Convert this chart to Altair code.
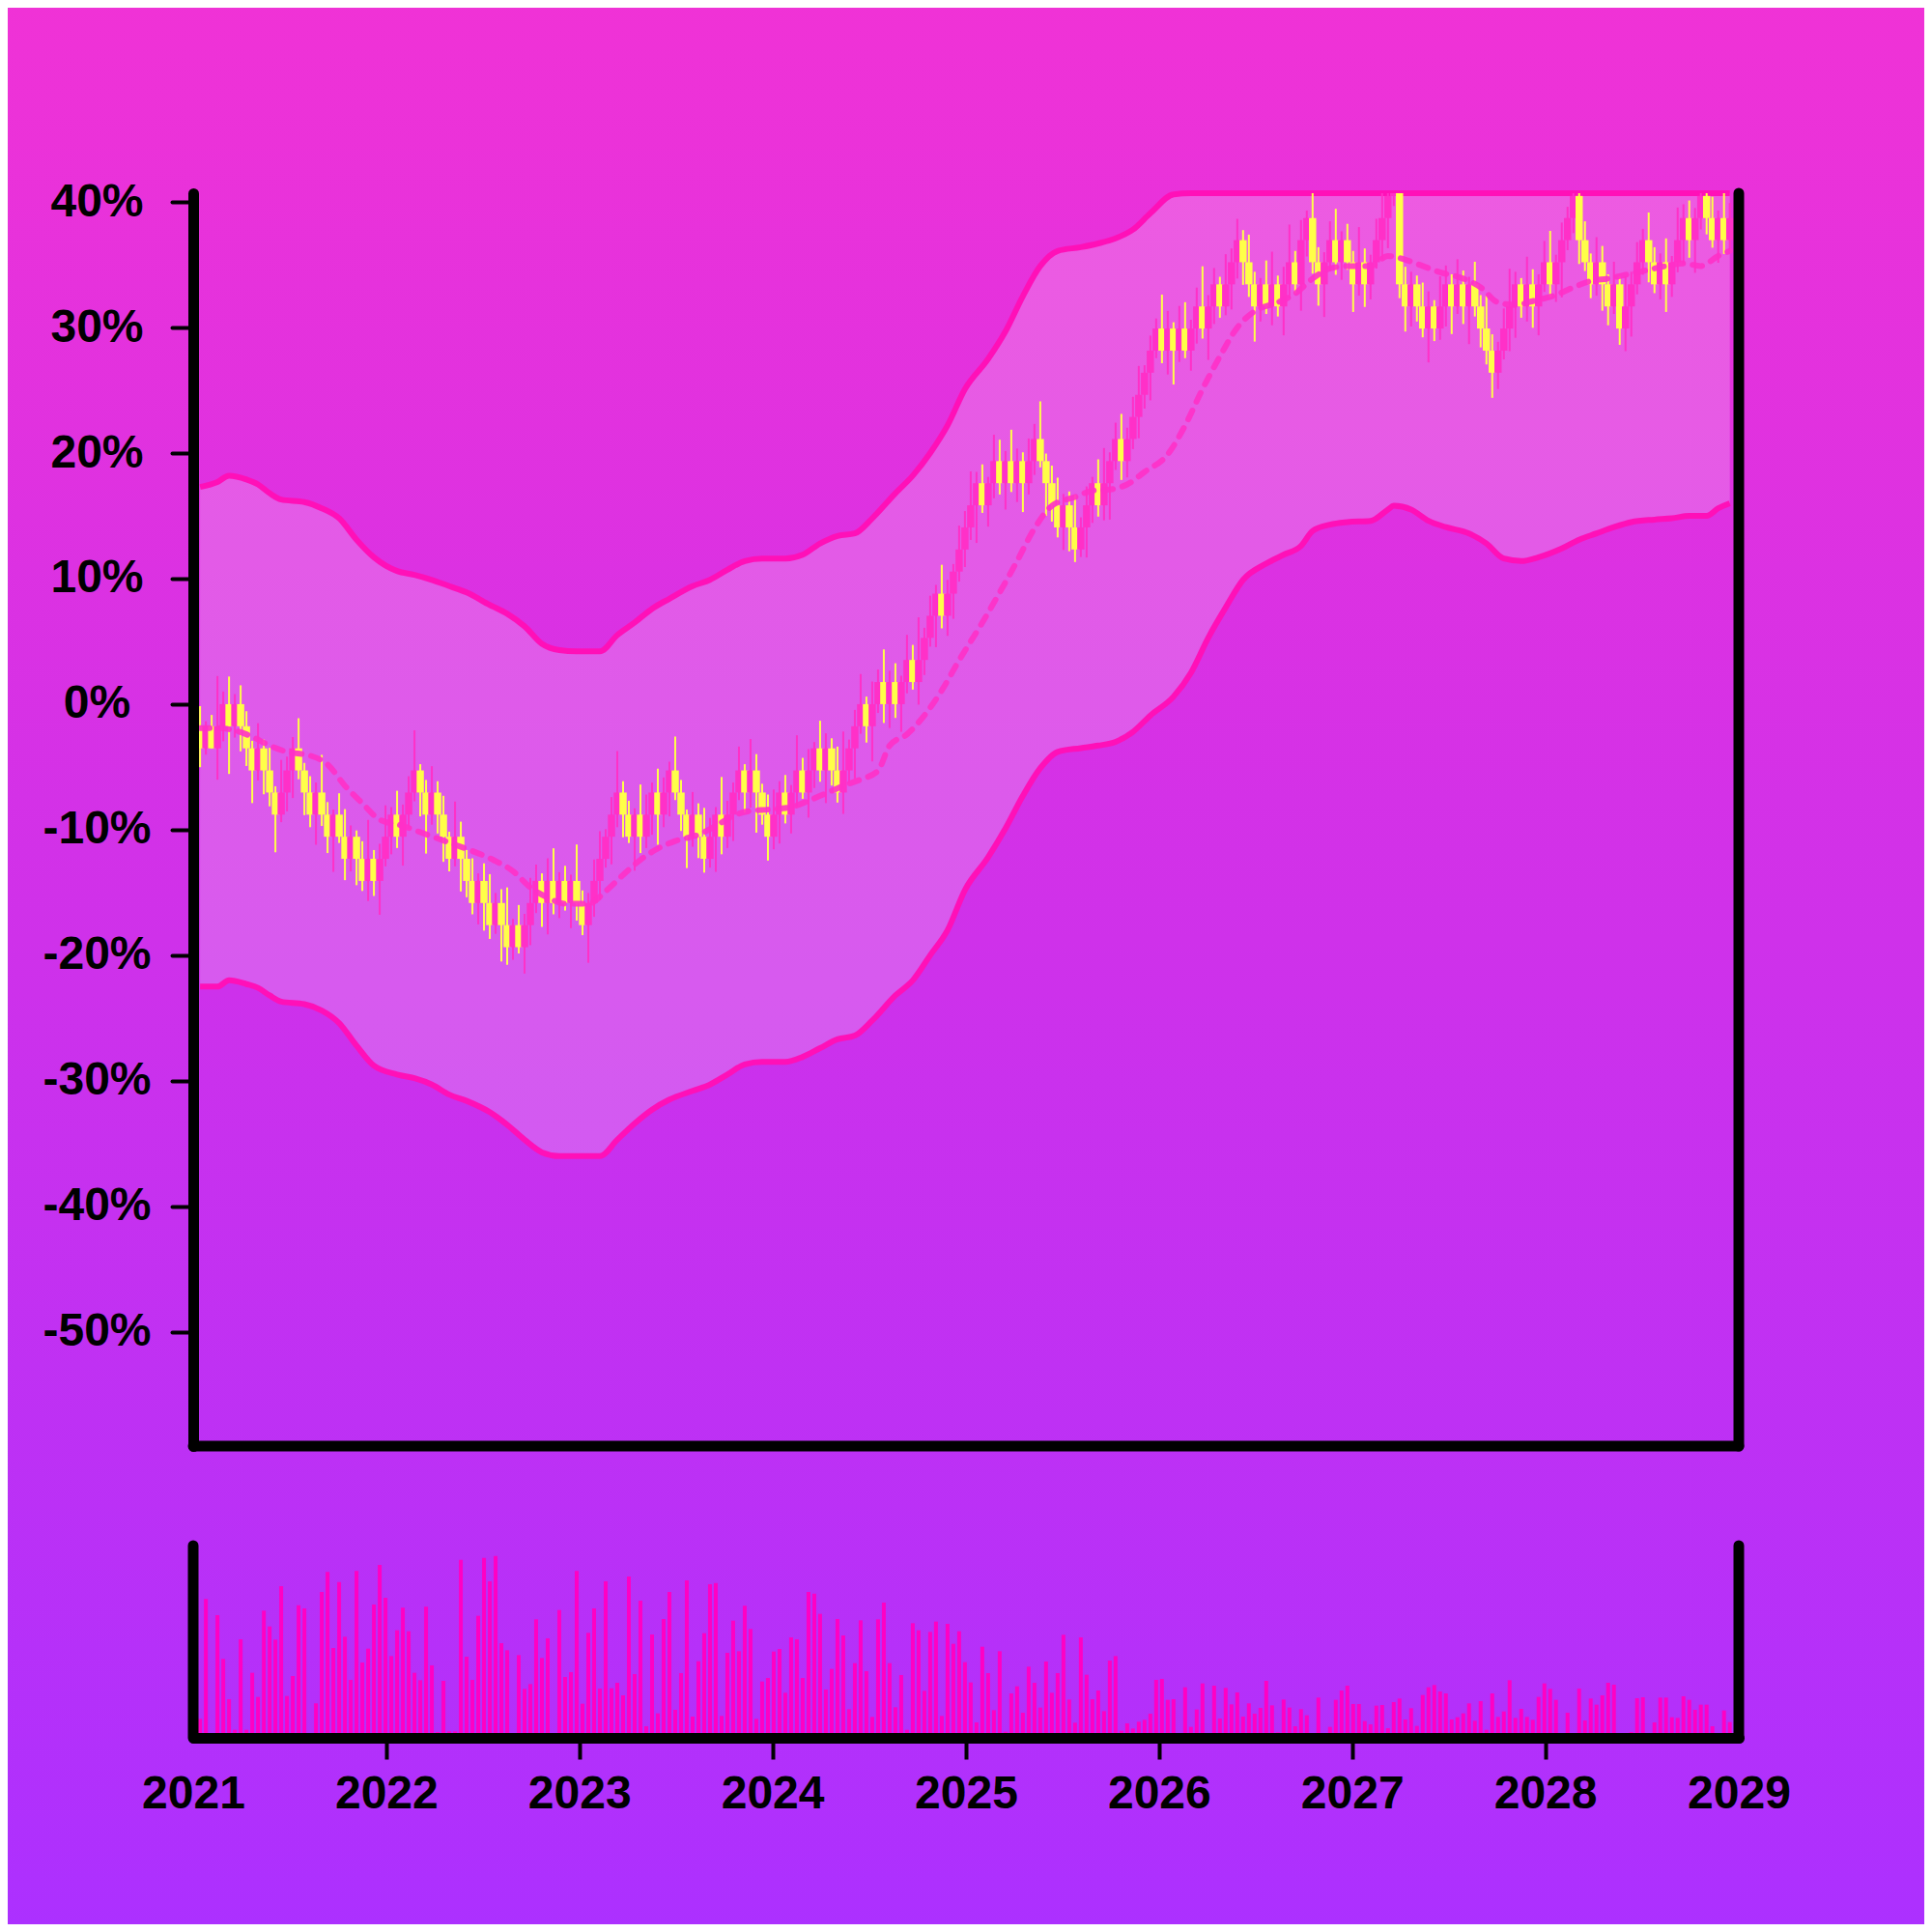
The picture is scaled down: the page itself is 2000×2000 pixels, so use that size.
import altair as alt
import pandas as pd

# ---------------- data ----------------
date_first = "2021-01-14"
date_last = "2028-12-15"

# candle bodies move on a ~1.76 % grid: closes given in grid steps
STEP = 1.76
first_open_lvl = -1
close_lvl = [
    -2, -1, -2, -1, 0, -1, 0, -1, -2, -3,
    -2, -3, -4, -5, -4, -3, -2, -3, -4, -5,
    -4, -5, -6, -5, -6, -7, -6, -7, -8, -7,
    -8, -7, -6, -5, -6, -5, -4, -3, -4, -5,
    -4, -5, -6, -7, -6, -7, -8, -9, -8, -9,
    -10, -9, -10, -11, -10, -11, -10, -9, -8, -9,
    -8, -9, -8, -9, -8, -9, -10, -9, -8, -7,
    -6, -5, -4, -5, -6, -5, -6, -5, -4, -5,
    -4, -3, -4, -5, -6, -5, -6, -7, -6, -5,
    -6, -5, -4, -3, -4, -3, -4, -5, -6, -5,
    -4, -5, -4, -3, -4, -3, -2, -3, -2, -3,
    -4, -3, -2, -1, 0, -1, 0, 1, 0, 1,
    0, 1, 2, 1, 2, 3, 4, 5, 4, 5,
    6, 7, 8, 9, 10, 9, 10, 11, 10, 11,
    10, 11, 10, 11, 12, 11, 10, 9, 8, 9,
    8, 7, 8, 9, 10, 9, 10, 11, 12, 11,
    12, 13, 14, 15, 16, 17, 16, 17, 16, 17,
    16, 17, 18, 17, 18, 19, 18, 19, 20, 21,
    20, 19, 18, 19, 18, 19, 18, 19, 20, 19,
    21, 22, 20, 19, 20, 21, 20, 21, 20, 19,
    20, 19, 20, 21, 22, 23, 24, 19, 18, 19,
    18, 17, 18, 17, 18, 19, 18, 19, 18, 19,
    18, 17, 16, 15, 16, 17, 18, 19, 18, 19,
    18, 19, 20, 19, 20, 21, 22, 23, 21, 20,
    19, 20, 19, 18, 19, 17, 18, 19, 20, 21,
    20, 19, 20, 19, 20, 21, 22, 21, 22, 23,
    22, 21, 22, 21, 22,
]

# wick lengths above / below the body, in %
wick_up = [
    1.6, 0.4, 0.9, 4.0, 1.0, 2.2, 0.8, 1.5, 1.2, 0.6,
    2.0, 0.7, 1.8, 0.5, 2.6, 1.1, 0.9, 2.4, 0.6, 1.3,
    0.8, 3.0, 1.0, 0.4, 1.7, 2.2, 0.9, 0.5, 1.4, 3.1,
    0.7, 1.2, 2.5, 0.6, 1.9, 0.8, 1.3, 3.2, 0.5, 1.0,
    2.1, 0.9, 1.5, 0.4, 2.8, 1.2, 0.7, 1.8, 0.6, 1.4,
    2.3, 0.8, 1.1, 3.0, 0.5, 1.6, 0.9, 2.0, 1.3, 0.6,
    1.8, 2.6, 0.7, 1.2, 0.5, 2.9, 1.0, 0.8, 1.7, 2.2,
    0.6, 1.4, 3.3, 0.9, 1.1, 0.5, 2.4, 1.6, 0.8, 1.9,
    1.2, 0.7, 2.7, 1.0, 0.4, 1.8, 0.9, 2.3, 1.5, 0.6,
    3.0, 1.1, 0.8, 1.9, 0.5, 2.5, 1.3, 0.7, 1.6, 2.0,
    0.9, 1.4, 0.6, 2.8, 1.0, 1.7, 0.5, 2.2, 1.2, 0.8,
    1.9, 3.1, 0.7, 1.3, 2.4, 0.6, 1.8, 1.0, 2.6, 0.9,
    1.5, 0.5, 2.0, 1.2, 3.4, 0.8, 1.6, 0.7, 2.3, 1.1,
    0.6, 1.9, 1.3, 2.7, 0.9, 1.5, 0.5, 2.1, 1.7, 0.8,
    2.5, 1.0, 0.7, 1.8, 1.2, 3.0, 0.6, 1.4, 2.2, 0.9,
    1.1, 2.6, 0.8, 1.5, 0.5, 1.9, 2.8, 0.7, 1.3, 2.0,
    0.9, 1.6, 2.3, 0.6, 1.2, 0.8, 2.7, 1.4, 0.5, 1.8,
    2.1, 0.7, 1.5, 3.2, 0.9, 1.3, 0.6, 2.4, 1.1, 1.7,
    0.8, 2.2, 1.0, 0.5, 1.9, 2.6, 0.7, 1.4, 3.0, 0.9,
    1.6, 0.6, 2.1, 1.2, 0.8, 1.5, 2.5, 0.7, 1.3, 0.9,
    2.8, 1.1, 0.6, 1.7, 2.2, 0.9, 3.1, 0.8, 1.4, 1.0,
    0.7, 1.9, 1.2, 0.5, 2.4, 1.5, 0.8, 2.0, 1.1, 0.6,
    1.8, 0.9, 2.6, 1.3, 0.7, 1.6, 3.0, 1.0, 0.5, 2.2,
    1.2, 0.8, 1.7, 2.5, 0.6, 1.4, 0.9, 2.9, 1.1, 1.5,
    0.7, 2.0, 1.3, 0.8, 1.8, 0.6, 2.4, 1.0, 1.6, 0.9,
    2.2, 1.2, 0.7, 1.9, 0.5, 2.6, 1.1, 1.4, 0.8, 2.0,
    1.0, 1.7, 0.6, 2.3, 1.2,
]
wick_dn = [
    1.5, 0.5, 0.0, 2.5, 1.2, 3.8, 0.9, 2.0, 1.4, 2.6,
    0.8, 1.9, 1.1, 3.0, 0.6, 1.5, 2.2, 0.7, 1.8, 1.0,
    2.4, 0.9, 1.3, 2.8, 0.5, 1.7, 1.0, 2.1, 0.8, 1.6,
    1.2, 2.7, 0.6, 1.4, 0.9, 2.3, 1.1, 0.7, 1.9, 3.1,
    0.8, 1.5, 2.0, 1.0, 0.6, 2.6, 1.3, 0.9, 1.7, 2.2,
    1.1, 0.7, 2.9, 1.4, 1.0, 0.5, 2.1, 1.6, 0.8, 1.9,
    2.5, 0.9, 1.2, 0.6, 2.0, 1.4, 0.8, 3.0, 1.1, 1.5,
    0.7, 2.2, 1.0, 1.8, 0.5, 2.7, 1.3, 0.9, 1.6, 2.4,
    1.0, 1.9, 0.6, 1.3, 2.5, 0.8, 1.7, 1.1, 0.7, 2.8,
    1.4, 0.9, 2.1, 0.6, 1.6, 1.2, 3.2, 0.8, 1.9, 1.0,
    2.3, 0.7, 1.5, 1.1, 0.5, 2.0, 1.4, 0.9, 2.6, 1.2,
    0.8, 1.7, 1.0, 2.4, 0.6, 1.3, 2.8, 0.7, 1.5, 1.9,
    1.1, 2.2, 0.9, 0.6, 1.8, 1.2, 0.7, 2.5, 1.0, 1.6,
    2.0, 0.8, 1.4, 1.0, 3.0, 0.6, 1.7, 1.2, 0.9, 2.1,
    0.7, 1.5, 2.3, 0.9, 1.1, 0.5, 2.6, 1.3, 0.8, 1.8,
    1.9, 1.0, 0.6, 2.4, 1.4, 0.9, 1.2, 2.9, 0.7, 1.5,
    1.3, 0.8, 1.7, 1.1, 2.2, 0.6, 1.0, 1.9, 2.7, 0.9,
    0.6, 1.6, 1.2, 0.8, 2.5, 1.4, 0.9, 0.7, 2.0, 1.3,
    1.8, 1.0, 2.8, 1.2, 0.6, 1.5, 0.8, 2.3, 1.1, 0.7,
    2.1, 1.3, 0.9, 1.7, 2.6, 0.7, 1.0, 1.4, 0.6, 2.2,
    0.9, 1.8, 1.2, 0.5, 1.5, 2.4, 0.8, 1.1, 2.0, 1.6,
    1.2, 0.7, 2.7, 1.0, 0.9, 1.6, 2.2, 0.6, 1.4, 3.0,
    0.8, 1.5, 1.1, 2.0, 1.3, 0.7, 1.8, 2.5, 0.9, 1.2,
    1.7, 2.3, 0.6, 1.0, 1.4, 2.8, 0.8, 1.2, 1.9, 0.7,
    1.1, 0.9, 2.1, 1.5, 0.6, 1.3, 1.8, 2.4, 0.8, 1.0,
    1.6, 0.7, 1.2, 2.2, 1.0, 0.8, 1.9, 1.4, 2.6, 0.9,
    1.3, 0.6, 1.8, 1.1, 0.9,
]

volumes = [
    44, 416, 0, 366, 230, 105, 10, 291, 10, 187,
    112, 380, 331, 290, 456, 115, 177, 397, 387, 0,
    92, 438, 500, 264, 469, 299, 165, 503, 219, 262,
    399, 522, 420, 239, 319, 389, 316, 187, 164, 392,
    210, 3, 162, 5, 5, 538, 237, 165, 364, 544,
    471, 550, 279, 257, 0, 242, 137, 152, 353, 233,
    294, 0, 382, 174, 189, 503, 91, 311, 387, 138,
    471, 139, 156, 117, 486, 183, 411, 21, 306, 61,
    354, 438, 72, 186, 474, 51, 223, 310, 462, 466,
    53, 249, 349, 254, 395, 323, 44, 160, 171, 253,
    261, 125, 297, 291, 171, 438, 433, 370, 135, 199,
    354, 303, 74, 217, 350, 192, 50, 353, 405, 217,
    80, 180, 10, 341, 319, 131, 314, 346, 53, 339,
    277, 316, 220,
    157, 33, 268, 186, 71, 254, 4, 123, 145, 63,
    206, 156, 79, 222, 125, 186, 305, 104, 32, 297,
    181, 105, 132, 68, 225, 239, 7, 30, 14, 35,
    41, 60, 165, 168, 103, 105, 0, 142, 19, 73,
    154, 0, 147, 45, 140, 89, 126, 51, 92, 60,
    78, 162, 86, 2, 104, 79, 21, 74, 55, 0,
    110, 0, 19, 103, 132, 147, 90, 90, 37, 27,
    85, 87, 15, 96, 107, 42, 77, 22, 118, 142,
    149, 129, 123, 42, 49, 61, 92, 38, 99, 10,
    123, 50, 67, 164, 47, 75, 50, 41, 112, 154,
    137, 103, 0, 63, 0, 138, 39, 107, 88, 117,
    156, 150, 0, 0, 3, 108, 111, 0, 33, 110,
    110, 49, 47, 114, 103, 72, 88, 88, 21, 0,
    70, 34,
]

band_idx = [0, 3, 5, 8, 10, 12, 14, 18, 21, 24, 27, 30, 34, 37, 40, 43, 46, 50,
            53, 56, 59, 62, 65, 69, 72, 75, 78, 81, 85, 88, 91, 94, 97, 101, 104,
            107, 110, 113, 116, 120, 123, 126, 129, 132, 136, 139, 142, 145, 148,
            152, 155, 158, 161, 164, 168, 171, 174, 177, 180, 184, 187, 190, 192,
            195, 198, 202, 205, 206, 209, 212, 215, 219, 222, 225, 228, 231, 235,
            238, 241, 244, 247, 251, 254, 257, 260, 262, 264]
band_upper = [17.3, 17.7, 18.2, 17.9, 17.5, 16.8, 16.3, 16.1, 15.6, 14.8, 13.1, 11.7,
              10.6, 10.3, 9.9, 9.4, 8.9, 7.9, 7.2, 6.2, 4.8, 4.3, 4.2, 4.2, 5.5, 6.5,
              7.6, 8.4, 9.4, 9.9, 10.7, 11.4, 11.6, 11.6, 11.9, 12.8, 13.4, 13.6,
              14.8, 16.8, 18.2, 20.0, 22.2, 25.1, 27.5, 29.7, 32.5, 34.9, 36.1, 36.4,
              36.7, 37.1, 37.8, 39.1, 40.6, 42.5, 45.3, 47.7, 49.9, 51.2, 51.9, 52.6,
              53.8, 54.3, 54.5, 54.6, 55.5, 55.8, 55.5, 54.6, 54.1, 53.6, 52.8, 51.6,
              51.4, 51.7, 52.4, 53.1, 53.6, 54.1, 54.5, 54.7, 54.8, 55.0, 55.0, 55.6,
              56.0]
band_lower = [-22.5, -22.5, -22.0, -22.3, -22.6, -23.2, -23.7, -23.9, -24.4, -25.4,
              -27.2, -28.8, -29.5, -29.8, -30.3, -31.1, -31.6, -32.5, -33.5, -34.7,
              -35.7, -36.0, -36.0, -36.0, -34.7, -33.4, -32.3, -31.5, -30.8, -30.3,
              -29.5, -28.7, -28.5, -28.5, -28.1, -27.4, -26.7, -26.4, -25.2, -23.2,
              -22.0, -20.0, -18.0, -14.8, -12.2, -9.9, -7.3, -5.1, -3.8, -3.5, -3.3,
              -3.0, -2.2, -0.9, 0.6, 2.5, 5.3, 7.7, 9.9, 11.2, 11.9, 12.6, 13.8, 14.3,
              14.5, 14.6, 15.5, 15.8, 15.5, 14.6, 14.1, 13.6, 12.8, 11.6, 11.4, 11.7,
              12.4, 13.1, 13.6, 14.1, 14.5, 14.7, 14.8, 15.0, 15.0, 15.6, 16.0]

ma_idx = [0, 3, 6, 9, 12, 15, 19, 22, 25, 28, 31, 35, 38, 41, 44, 47, 51, 54, 57,
          60, 63, 67, 70, 73, 76, 79, 82, 86, 89, 92, 95, 98, 102, 105, 108, 111,
          114, 117, 119, 122, 125, 128, 131, 135, 138, 141, 144, 147, 151, 154,
          157, 160, 163, 167, 170, 173, 176, 179, 182, 186, 189, 192, 195, 198,
          202, 205, 208, 211, 214, 218, 221, 224, 227, 230, 234, 237, 240, 243,
          246, 250, 253, 256, 259, 262, 264]
ma_vals = [-1.9, -1.9, -2.1, -2.6, -3.3, -3.8, -4.1, -4.8, -6.5, -7.9, -9.2, -9.7,
           -10.2, -10.7, -11.2, -11.7, -12.5, -13.3, -14.6, -15.4, -15.9, -15.9,
           -14.9, -13.6, -12.4, -11.5, -10.9, -10.4, -9.7, -8.9, -8.5, -8.4, -8.2,
           -7.7, -7.1, -6.5, -6.0, -5.3, -3.3, -2.4, -0.9, 1.1, 3.5, 6.5, 8.9, 11.4,
           14.0, 15.8, 16.5, 17.0, 17.1, 17.5, 18.5, 19.9, 22.2, 25.1, 27.7, 30.0,
           31.3, 32.0, 32.7, 33.9, 34.7, 34.9, 34.9, 35.7, 35.4, 34.9, 34.4, 33.9,
           33.2, 32.0, 31.8, 32.1, 32.6, 33.2, 33.7, 33.9, 34.2, 34.6, 34.9, 35.1,
           34.9, 35.7, 36.1]

y_ticks = [-50, -40, -30, -20, -10, 0, 10, 20, 30, 40]
years = list(range(2021, 2030))

# ---------------- tables ----------------
dates = pd.date_range(date_first, date_last, periods=len(close_lvl))
closes = [round(v * STEP, 2) for v in close_lvl]
opens = [round(first_open_lvl * STEP, 2)] + closes[:-1]
highs = [max(o, c) + u for o, c, u in zip(opens, closes, wick_up)]
lows = [min(o, c) - d for o, c, d in zip(opens, closes, wick_dn)]
candles = pd.DataFrame({"date": dates, "open": opens, "high": highs,
                        "low": lows, "close": closes, "volume": volumes})
band = pd.DataFrame({"date": dates[band_idx], "upper": band_upper, "lower": band_lower})
ma = pd.DataFrame({"date": dates[ma_idx], "ma": ma_vals})
one = pd.DataFrame({"k": [0]})

# ---------------- styling ----------------
W, H = 1600, 1599
MAIN_H = 1297
VOL_TOP, VOL_BASE = 1400, 1594
PINK = "#ff30c8"
YELLOW = "#ffff48"
BAND = "#ff10b8"
FONT = "Liberation Sans"

xscale = alt.Scale(domain=[alt.DateTime(year=2021, month=1, date=1),
                           alt.DateTime(year=2029, month=1, date=1)],
                   nice=False, padding=0)
xaxis = alt.Axis(values=[alt.DateTime(year=y, month=1, date=1) for y in years],
                 format="%Y", title=None, grid=False, labelFlush=False,
                 labelOverlap=False, domainWidth=11, domainColor="black",
                 domainCap="round", tickSize=22, tickWidth=4, tickColor="black",
                 tickOpacity={"condition": {"test": "year(datum.value) == 2021 || year(datum.value) == 2029",
                                            "value": 0}, "value": 1},
                 labelFont=FONT, labelFontSize=48, labelFontWeight="bold",
                 labelColor="black", labelPadding=12, zindex=1)
X = alt.X("date:T", scale=xscale, axis=xaxis)

yscale = alt.Scale(domain=[-59.1, 40.7], range=[MAIN_H, 0], clamp=True,
                   nice=False, zero=False)
yaxis = alt.Axis(values=y_ticks, labelExpr="datum.value + '%'", title=None,
                 grid=False, domainWidth=11, domainColor="black", domainCap="round",
                 tickSize=22, tickWidth=4, tickColor="black", tickCap="round",
                 labelFont=FONT, labelFontSize=48, labelFontWeight="bold",
                 labelColor="black", labelAlign="center", labelBaseline="middle",
                 labelPadding=78, zindex=1)

grad = alt.LinearGradient(gradient="linear",
                          stops=[alt.GradientStop(color="#f032d6", offset=0),
                                 alt.GradientStop(color="#ac30ff", offset=1)],
                          x1=0, x2=0, y1=0, y2=1)
bg = alt.Chart(one).mark_rect(fill=grad, strokeWidth=0).encode(
    x=alt.value(-200), x2=alt.value(1800), y=alt.value(-200), y2=alt.value(1800))

band_fill = alt.Chart(band).mark_area(color="white", opacity=0.2,
                                      interpolate="monotone").encode(
    x=X, y=alt.Y("lower:Q", scale=yscale, axis=yaxis), y2="upper:Q")
band_up = alt.Chart(band).mark_line(color=BAND, strokeWidth=6,
                                    interpolate="monotone").encode(
    x=X, y=alt.Y("upper:Q", scale=yscale, axis=yaxis))
band_lo = alt.Chart(band).mark_line(color=BAND, strokeWidth=6,
                                    interpolate="monotone").encode(
    x=X, y=alt.Y("lower:Q", scale=yscale, axis=yaxis))

up_cond = alt.condition("datum.close > datum.open", alt.value(PINK), alt.value(YELLOW))
wicks = alt.Chart(candles).mark_rule(strokeWidth=2).encode(
    x=X, y=alt.Y("low:Q", scale=yscale, axis=yaxis), y2="high:Q", color=up_cond)
bodies = alt.Chart(candles).mark_bar(size=7.5).encode(
    x=X, y=alt.Y("open:Q", scale=yscale, axis=yaxis), y2="close:Q", color=up_cond)

ma_line = alt.Chart(ma).mark_line(color=PINK, strokeWidth=6, strokeDash=[10, 10],
                                  strokeCap="round", opacity=0.9,
                                  interpolate="monotone").encode(
    x=X, y=alt.Y("ma:Q", scale=yscale, axis=yaxis))

def rule(**enc):
    return alt.Chart(one).mark_rule(color="black", strokeWidth=11,
                                    strokeCap="round").encode(**enc)

main_right = rule(x=alt.value(W), y=alt.value(0), y2=alt.value(MAIN_H))
main_bottom = rule(x=alt.value(0), x2=alt.value(W), y=alt.value(MAIN_H))

price = alt.layer(bg, band_fill, band_up, band_lo, wicks, bodies, ma_line,
                  main_right, main_bottom)

vscale = alt.Scale(domain=[0, 582], range=[VOL_BASE, VOL_TOP], nice=False)
vol_bars = alt.Chart(candles).mark_bar(color="#ff00c4", size=4).encode(
    x=X, y=alt.Y("volume:Q", scale=vscale, axis=None))
vol_left = rule(x=alt.value(0), y=alt.value(VOL_TOP), y2=alt.value(H))
vol_right = rule(x=alt.value(W), y=alt.value(VOL_TOP), y2=alt.value(H))
volume = alt.layer(vol_bars, vol_left, vol_right)

chart = alt.layer(price, volume).resolve_scale(y="independent").properties(
    width=W, height=H,
    padding={"left": 192, "top": 192, "right": 192, "bottom": 193},
    autosize=alt.AutoSizeParams(type="none"),
    background="#c030ee",
).configure_view(strokeWidth=0)

chart.save("out.html", embed_options={"renderer": "svg", "actions": False})
